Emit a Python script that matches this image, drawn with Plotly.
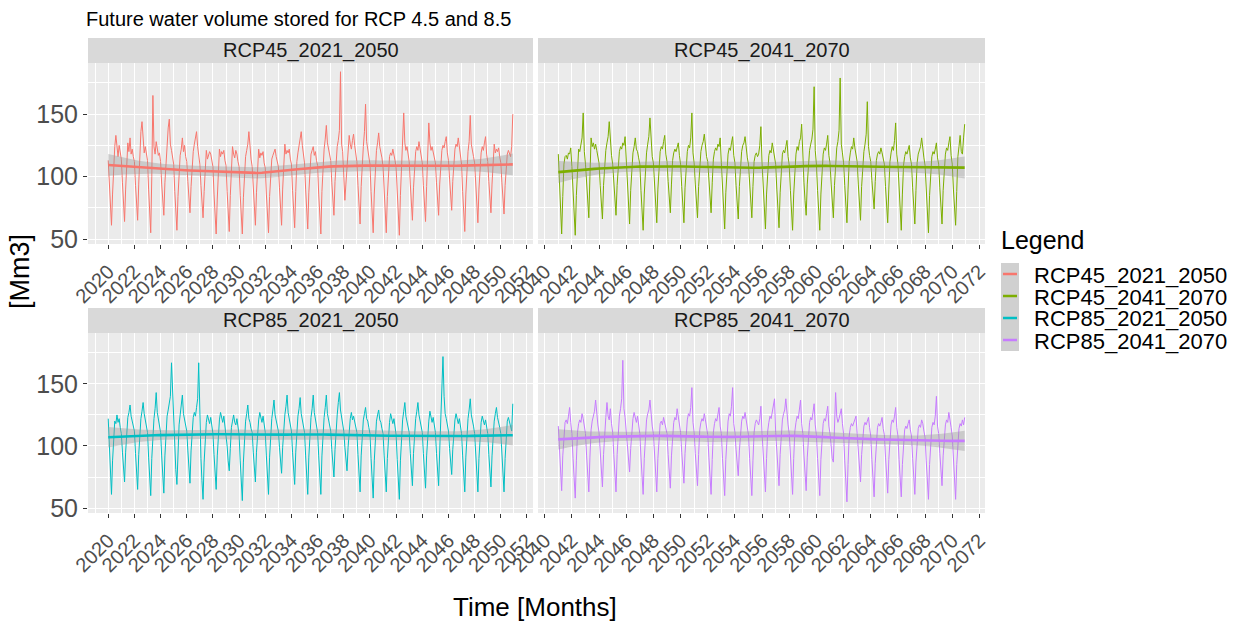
import numpy as np
import pandas as pd
import plotly.graph_objects as go

# ---------------- data (monthly values, Mm3) ----------------
series_names = ["RCP45_2021_2050", "RCP45_2041_2070", "RCP85_2021_2050", "RCP85_2041_2070"]
series_colors = ["#F8766D", "#7CAE00", "#00BFC4", "#C77CFF"]
series_start = ["2020-01-01", "2041-01-01", "2020-01-01", "2041-01-01"]
tick_start = ["2020-01-01", "2040-01-01", "2020-01-01", "2040-01-01"]

rcp45_2021_2050 = [
    113, 96, 74, 61, 86, 112, 124, 133, 121, 116, 125, 118,
    114, 95, 78, 64, 90, 115, 127, 120, 131, 118, 122, 116,
    112, 93, 76, 65, 94, 118, 136, 144, 128, 119, 124, 117,
    113, 90, 70, 55, 100, 165, 124, 118, 128, 121, 117, 119,
    112, 94, 80, 69, 95, 114, 128, 139, 146, 126, 121, 115,
    110, 88, 71, 57, 84, 108, 117, 122, 131, 120, 125, 116,
    112, 96, 82, 71, 92, 113, 120, 126, 131, 136, 124, 117,
    110, 93, 78, 67, 88, 110, 121, 114, 117, 120, 118, 112,
    108, 86, 68, 54, 82, 106, 122, 116, 120, 118, 121, 113,
    109, 88, 70, 56, 85, 110, 124, 118, 115, 121, 118, 112,
    108, 85, 67, 54, 83, 107, 116, 121, 126, 136, 122, 114,
    108, 90, 72, 61, 87, 108, 122, 115, 119, 117, 120, 111,
    107, 86, 69, 55, 84, 106, 114, 117, 119, 122, 116, 112,
    108, 91, 74, 61, 90, 112, 126, 118, 121, 119, 122, 114,
    110, 89, 72, 59, 88, 112, 119, 124, 128, 136, 125, 116,
    111, 90, 71, 58, 87, 110, 118, 121, 124, 117, 120, 113,
    109, 86, 68, 54, 88, 114, 122, 130, 141, 127, 123, 117,
    113, 95, 80, 69, 96, 116, 124, 129, 137, 184, 126, 120,
    96, 81, 94, 110, 120, 133, 126, 122, 129, 134, 125, 118,
    112, 93, 77, 62, 92, 115, 124, 136, 158, 128, 122, 116,
    110, 88, 70, 55, 86, 110, 121, 127, 135, 124, 120, 115,
    108, 87, 70, 55, 84, 108, 116, 119, 117, 122, 118, 113,
    107, 86, 68, 53, 85, 112, 126, 151, 127, 121, 124, 116,
    112, 94, 78, 65, 91, 113, 120, 124, 121, 128, 122, 116,
    111, 93, 77, 64, 92, 118, 143, 127, 121, 124, 120, 115,
    111, 95, 81, 69, 94, 114, 121, 125, 123, 128, 132, 119,
    113, 98, 84, 73, 96, 115, 122, 126, 124, 131, 125, 117,
    110, 88, 70, 56, 86, 111, 120, 128, 149, 126, 122, 116,
    111, 92, 76, 63, 90, 112, 119, 124, 121, 127, 132, 118,
    112, 96, 83, 71, 94, 113, 126, 119, 122, 120, 123, 116,
    111, 95, 81, 70, 93, 112, 118, 121, 119, 116, 124, 150,
]

rcp45_2041_2070 = [
    118, 92, 70, 54, 84, 110, 116, 117, 114, 119, 118, 123,
    108, 86, 68, 53, 85, 112, 122, 120, 126, 131, 151, 120,
    110, 94, 79, 67, 100, 131, 124, 127, 122, 126, 121, 116,
    111, 93, 78, 66, 93, 114, 121, 127, 132, 144, 124, 117,
    110, 94, 80, 69, 93, 113, 120, 124, 122, 127, 125, 132,
    112, 91, 75, 62, 89, 111, 119, 124, 131, 122, 120, 115,
    110, 89, 71, 57, 86, 110, 119, 126, 132, 147, 124, 116,
    111, 92, 76, 63, 90, 112, 120, 124, 122, 128, 133, 118,
    112, 96, 82, 71, 94, 113, 119, 122, 120, 124, 127, 117,
    110, 92, 76, 63, 91, 112, 120, 125, 123, 131, 151, 119,
    111, 94, 79, 67, 92, 113, 120, 125, 128, 134, 122, 116,
    112, 97, 83, 71, 95, 114, 120, 123, 121, 126, 124, 131,
    111, 90, 72, 58, 87, 110, 118, 123, 121, 127, 132, 117,
    111, 93, 78, 66, 92, 113, 120, 125, 127, 132, 121, 115,
    110, 93, 79, 67, 92, 112, 117, 119, 116, 118, 125, 140,
    111, 90, 72, 58, 86, 109, 117, 121, 119, 127, 122, 116,
    110, 90, 73, 59, 87, 110, 118, 121, 119, 124, 129, 116,
    109, 89, 71, 57, 86, 110, 118, 124, 121, 128, 131, 142,
    112, 95, 81, 69, 94, 114, 121, 126, 130, 138, 172, 121,
    110, 89, 71, 57, 86, 110, 118, 123, 121, 126, 133, 117,
    111, 94, 79, 67, 93, 115, 123, 128, 137, 179, 126, 119,
    111, 93, 76, 63, 90, 112, 119, 124, 122, 131, 123, 116,
    112, 94, 78, 65, 92, 113, 120, 126, 134, 160, 124, 117,
    112, 97, 84, 74, 96, 113, 118, 120, 118, 123, 119, 114,
    110, 92, 76, 63, 90, 112, 119, 124, 121, 129, 143, 118,
    110, 89, 72, 57, 86, 109, 116, 120, 118, 121, 125, 115,
    110, 91, 75, 62, 89, 111, 118, 122, 124, 131, 121, 115,
    109, 88, 70, 55, 85, 108, 116, 120, 118, 122, 127, 115,
    110, 91, 75, 62, 89, 110, 118, 123, 121, 127, 132, 117,
    110, 90, 74, 61, 88, 116, 124, 133, 120, 118, 131, 142,
]

rcp85_2021_2050 = [
    122, 98, 76, 61, 88, 112, 120, 118, 125, 119, 122, 115,
    110, 95, 82, 71, 95, 116, 123, 127, 133, 124, 120, 117,
    112, 94, 78, 65, 93, 115, 122, 128, 135, 126, 121, 116,
    111, 91, 74, 60, 90, 114, 122, 130, 143, 127, 122, 117,
    111, 92, 76, 62, 92, 116, 124, 129, 134, 140, 167, 146,
    112, 95, 81, 69, 95, 117, 125, 131, 141, 126, 122, 117,
    112, 96, 82, 70, 96, 116, 123, 127, 124, 131, 138, 167,
    113, 90, 72, 57, 87, 111, 119, 125, 121, 118, 123, 115,
    110, 93, 78, 65, 92, 113, 121, 127, 122, 119, 124, 116,
    111, 100, 88, 80, 98, 115, 120, 125, 119, 117, 122, 115,
    109, 88, 70, 56, 87, 111, 120, 126, 133, 122, 119, 114,
    111, 95, 82, 71, 95, 115, 121, 127, 122, 119, 124, 116,
    111, 92, 75, 61, 91, 114, 122, 129, 137, 125, 121, 116,
    112, 99, 87, 78, 99, 118, 125, 132, 141, 127, 122, 117,
    112, 95, 81, 69, 95, 116, 124, 130, 139, 126, 121, 116,
    111, 92, 74, 61, 91, 115, 123, 130, 141, 127, 122, 116,
    111, 92, 75, 61, 92, 115, 123, 131, 141, 126, 121, 117,
    112, 97, 85, 75, 97, 117, 125, 135, 143, 129, 123, 118,
    112, 99, 88, 80, 99, 116, 122, 127, 121, 124, 120, 116,
    111, 93, 77, 63, 92, 114, 121, 126, 131, 122, 120, 115,
    110, 90, 73, 58, 88, 112, 120, 125, 129, 121, 119, 114,
    110, 92, 76, 63, 90, 112, 119, 126, 121, 118, 122, 114,
    109, 89, 71, 57, 88, 113, 121, 128, 135, 124, 120, 115,
    111, 94, 80, 68, 94, 115, 122, 128, 135, 125, 121, 116,
    111, 94, 79, 66, 92, 113, 120, 128, 122, 119, 123, 115,
    111, 94, 80, 68, 96, 120, 136, 172, 140, 126, 122, 117,
    112, 98, 86, 77, 97, 115, 121, 126, 120, 118, 122, 115,
    110, 92, 76, 63, 91, 114, 122, 129, 138, 125, 121, 116,
    110, 92, 76, 63, 90, 112, 119, 124, 120, 117, 121, 114,
    110, 93, 78, 67, 92, 113, 120, 126, 131, 123, 120, 115,
    110, 92, 76, 63, 90, 112, 120, 123, 119, 117, 112, 134,
]

rcp85_2041_2070 = [
    116, 94, 78, 64, 92, 112, 119, 121, 118, 124, 131, 119,
    110, 90, 73, 58, 88, 111, 118, 121, 119, 126, 122, 116,
    110, 92, 76, 63, 91, 113, 120, 125, 128, 137, 123, 117,
    111, 94, 79, 67, 93, 115, 123, 135, 124, 121, 130, 118,
    111, 93, 77, 63, 93, 116, 124, 130, 138, 169, 130, 123,
    110, 96, 86, 79, 98, 116, 122, 127, 121, 119, 124, 116,
    110, 91, 74, 61, 90, 113, 121, 126, 129, 137, 122, 116,
    110, 92, 76, 63, 90, 111, 118, 120, 117, 123, 119, 114,
    110, 93, 78, 66, 92, 112, 119, 123, 121, 130, 122, 116,
    111, 95, 81, 70, 94, 114, 121, 126, 124, 131, 147, 119,
    111, 94, 80, 68, 93, 113, 119, 122, 120, 126, 121, 115,
    109, 91, 74, 61, 89, 111, 118, 122, 120, 125, 131, 116,
    110, 90, 73, 60, 89, 112, 120, 126, 124, 132, 147, 118,
    111, 97, 85, 76, 96, 114, 120, 124, 122, 127, 121, 115,
    109, 90, 73, 60, 88, 111, 118, 121, 119, 117, 122, 132,
    110, 91, 75, 63, 90, 112, 119, 124, 122, 127, 131, 138,
    111, 94, 80, 68, 93, 114, 121, 126, 129, 138, 124, 117,
    110, 91, 75, 61, 90, 112, 119, 124, 122, 129, 137, 118,
    110, 92, 77, 64, 91, 112, 119, 123, 121, 127, 134, 117,
    109, 90, 74, 60, 89, 111, 118, 122, 120, 126, 132, 116,
    110, 100, 90, 87, 115, 143, 124, 119, 122, 126, 130, 118,
    110, 88, 70, 55, 85, 108, 115, 118, 116, 119, 121, 124,
    110, 95, 81, 71, 93, 110, 116, 119, 117, 120, 123, 115,
    108, 89, 72, 59, 86, 108, 115, 118, 116, 119, 123, 114,
    109, 91, 75, 62, 89, 110, 117, 121, 119, 124, 131, 115,
    108, 89, 72, 59, 85, 106, 113, 116, 114, 118, 121, 113,
    108, 90, 74, 61, 87, 107, 114, 117, 115, 121, 118, 112,
    107, 88, 71, 57, 85, 107, 115, 119, 117, 124, 140, 116,
    110, 94, 80, 68, 92, 110, 117, 121, 119, 127, 122, 115,
    108, 88, 70, 57, 85, 106, 114, 118, 116, 121, 117, 123,
]

series_values = [rcp45_2021_2050, rcp45_2041_2070, rcp85_2021_2050, rcp85_2041_2070]

# ---------------- layout geometry (pixels) ----------------
W, H = 1254, 624
L, R, T, B = 88, 985, 38, 513
PW, PH = R - L, B - T


def px(x):
    return (x - L) / PW


def py(y):
    return (B - y) / PH


panel_x = [(88, 533), (538, 985), (88, 533), (538, 985)]
panel_y = [(63, 244), (63, 244), (333, 513), (333, 513)]
strip_y = [(38, 63), (38, 63), (308, 333), (308, 333)]


# ---------------- loess smoother with 95% band (like geom_smooth) ----------------
def loess_band(x, y, xs, span=0.75):
    n = len(x)
    q = int(np.floor(n * span))

    def row(x0):
        d = np.abs(x - x0)
        h = np.sort(d)[q - 1]
        u = np.clip(d / h, 0, 1)
        w = (1 - u ** 3) ** 3
        X = np.column_stack([np.ones(n), x - x0, (x - x0) ** 2])
        XtW = X.T * w
        return np.linalg.solve(XtW @ X, XtW)[0]

    Lm = np.array([row(x0) for x0 in x])
    M = np.eye(n) - Lm
    res = M @ y
    d1 = np.trace(M.T @ M)
    sigma = np.sqrt(res @ res / d1)
    Ls = np.array([row(x0) for x0 in xs])
    fit = Ls @ y
    se = sigma * np.sqrt((Ls ** 2).sum(axis=1))
    t = 1.968
    return fit, fit - t * se, fit + t * se


fig = go.Figure()
shapes = []
annotations = []

for i, (name, col, vals, start) in enumerate(zip(series_names, series_colors, series_values, series_start)):
    k = "" if i == 0 else str(i + 1)
    dates = pd.date_range(start, periods=len(vals), freq="MS")
    y = np.array(vals, dtype=float)
    xnum = (dates - dates[0]).days.values / 365.25
    xs = np.linspace(xnum.min(), xnum.max(), 80)
    fit, lo, hi = loess_band(xnum, y, xs)
    xs_dates = dates[0] + pd.to_timedelta(xs * 365.25, unit="D")

    fig.add_trace(go.Scatter(x=dates, y=y, mode="lines", line=dict(color=col, width=1.0),
                             showlegend=False, xaxis="x" + k, yaxis="y" + k, hoverinfo="skip"))
    fig.add_trace(go.Scatter(x=list(xs_dates) + list(xs_dates[::-1]), y=list(hi) + list(lo[::-1]),
                             fill="toself", fillcolor="rgba(153,153,153,0.4)", line=dict(width=0),
                             mode="lines", showlegend=False, xaxis="x" + k, yaxis="y" + k, hoverinfo="skip"))
    fig.add_trace(go.Scatter(x=xs_dates, y=fit, mode="lines", line=dict(color=col, width=2.6),
                             showlegend=False, xaxis="x" + k, yaxis="y" + k, hoverinfo="skip"))

    # x range with 5% expansion like ggplot
    span = dates[-1] - dates[0]
    xr = [dates[0] - span * 0.05, dates[-1] + span * 0.05]

    x0p, x1p = panel_x[i]
    y0p, y1p = panel_y[i]
    fig.layout["xaxis" + k] = dict(
        domain=[px(x0p), px(x1p)], anchor="y" + k, type="date", range=xr,
        tick0=tick_start[i], dtick="M24", tickformat="%Y", tickangle=-45,
        ticks="outside", ticklen=4, tickwidth=1, tickcolor="#333333", ticklabelstandoff=3,
        tickfont=dict(family="Liberation Sans", size=20, color="#4D4D4D"),
        showgrid=True, gridcolor="white", gridwidth=1.2, zeroline=False, showline=False,
        minor=dict(dtick="M12", tick0=tick_start[i], showgrid=True, gridcolor="white", gridwidth=0.6, ticks=""),
    )
    left = (i % 2 == 0)
    fig.layout["yaxis" + k] = dict(
        domain=[py(y1p), py(y0p)], anchor="x" + k, range=[46, 191],
        tick0=0, dtick=50, ticks="outside" if left else "", ticklen=4, tickwidth=1, tickcolor="#333333",
        showticklabels=left,
        tickfont=dict(family="Liberation Sans", size=25, color="#4D4D4D"),
        showgrid=True, gridcolor="white", gridwidth=1.2, zeroline=False, showline=False,
        minor=dict(dtick=25, tick0=0, showgrid=True, gridcolor="white", gridwidth=0.6, ticks=""),
    )

    # strip
    sy0, sy1 = strip_y[i]
    shapes.append(dict(type="rect", xref="paper", yref="paper", x0=px(x0p), x1=px(x1p),
                       y0=py(sy1), y1=py(sy0), fillcolor="#D9D9D9", line=dict(width=0)))
    annotations.append(dict(text=name, xref="paper", yref="paper", x=px((x0p + x1p) / 2),
                            y=py((sy0 + sy1) / 2), xanchor="center", yanchor="middle", showarrow=False,
                            font=dict(family="Liberation Sans", size=20, color="#1A1A1A")))

    # manual legend entry
    ky0 = 263 + 22 * i
    shapes.append(dict(type="rect", xref="paper", yref="paper", x0=px(1001), x1=px(1019),
                       y0=py(ky0 + 22), y1=py(ky0), fillcolor="#D0D0D0", line=dict(width=0)))
    shapes.append(dict(type="line", xref="paper", yref="paper", x0=px(1003), x1=px(1017),
                       y0=py(ky0 + 11), y1=py(ky0 + 11), line=dict(color=col, width=2.5)))
    annotations.append(dict(text=name, xref="paper", yref="paper", x=px(1032), y=py(ky0 + 12),
                            xanchor="left", yanchor="middle", showarrow=False,
                            font=dict(family="Liberation Sans", size=22, color="#000000")))

annotations.append(dict(text="Legend", xref="paper", yref="paper", x=px(999), y=py(240),
                        xanchor="left", yanchor="middle", showarrow=False,
                        font=dict(family="Liberation Sans", size=25, color="#000000")))
annotations.append(dict(text="Future water volume stored for RCP 4.5 and 8.5", xref="paper", yref="paper",
                        x=px(84), y=py(19), xanchor="left", yanchor="middle", showarrow=False,
                        font=dict(family="Liberation Sans", size=20, color="#000000")))
annotations.append(dict(text="[Mm3]", xref="paper", yref="paper", x=px(20), y=py(272),
                        xanchor="center", yanchor="middle", showarrow=False, textangle=-90,
                        font=dict(family="Liberation Sans", size=27, color="#000000")))
annotations.append(dict(text="Time [Months]", xref="paper", yref="paper", x=px(535), y=py(607),
                        xanchor="center", yanchor="middle", showarrow=False,
                        font=dict(family="Liberation Sans", size=26, color="#000000")))

fig.update_layout(
    width=W, height=H, margin=dict(l=L, r=W - R, t=T, b=H - B, pad=0),
    paper_bgcolor="white", plot_bgcolor="#EBEBEB",
    showlegend=False, shapes=shapes, annotations=annotations,
    font=dict(family="Liberation Sans"),
)

fig.write_html("out.html")
